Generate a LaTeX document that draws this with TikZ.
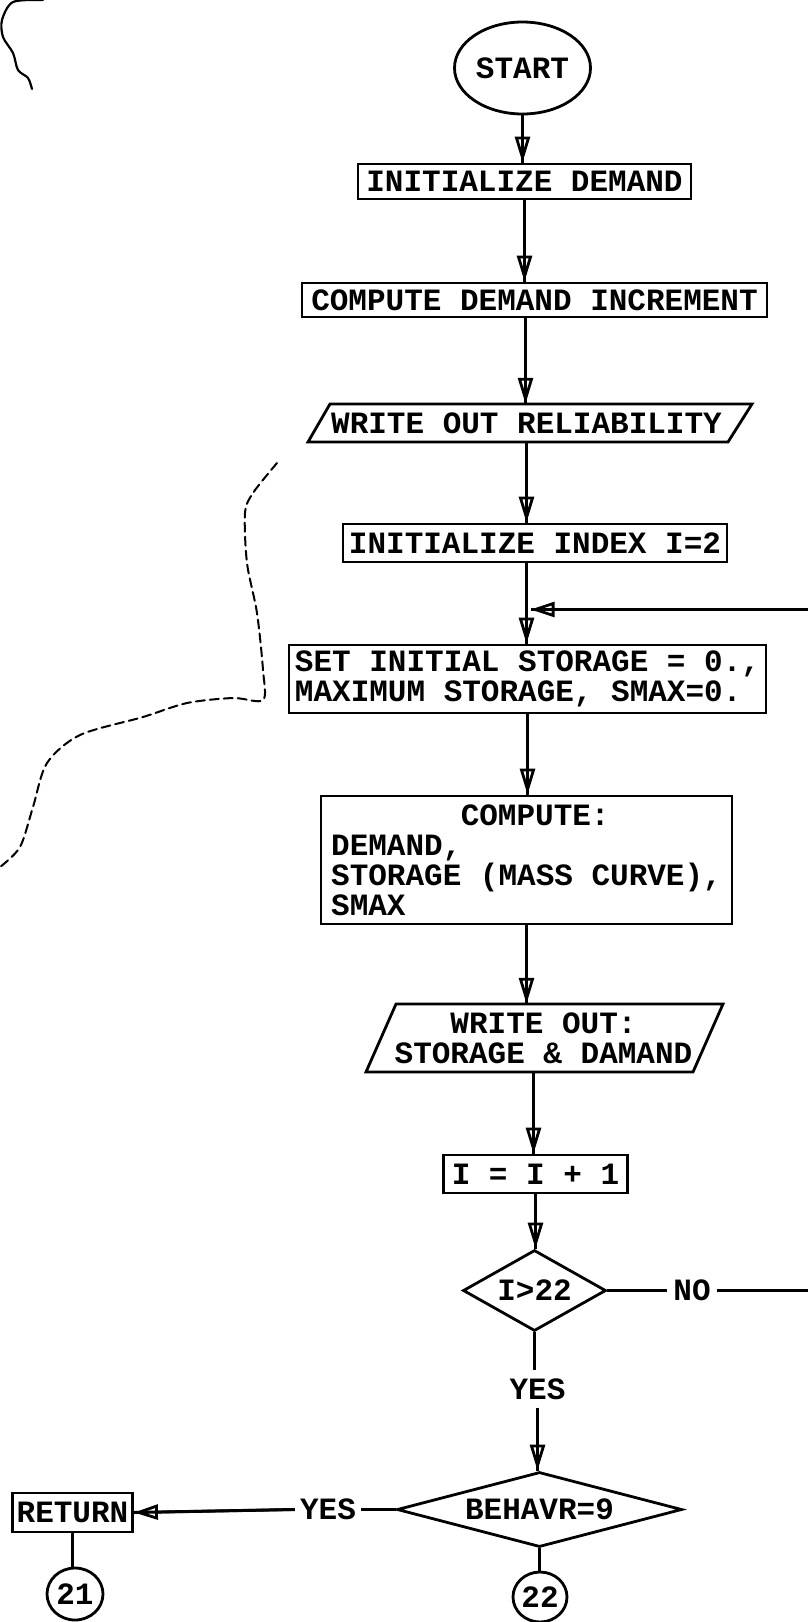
\documentclass[tikz,border=0pt]{standalone}
\usepackage{fontspec}
\setmonofont{Liberation Mono}[WordSpace={1,0,0}]
\usetikzlibrary{arrows.meta,shapes.geometric}
\newcommand\tfont{\fontsize{31}{30}\selectfont\ttfamily\bfseries}
\tikzset{
  lw/.style={line width=2.8pt},
  cw/.style={line width=3pt},
  boxnode/.style={draw, lw, rectangle, inner sep=0pt, font=\tfont},
  txtnode/.style={inner sep=0pt, font=\tfont},
  lbl/.style={inner xsep=6pt, inner ysep=8pt, font=\tfont},
  dia/.style={diamond, draw, lw, inner sep=0pt, font=\tfont},
  oval/.style={ellipse, draw, lw, inner sep=0pt, font=\tfont},
  conn/.style={cw},
  arr/.style={cw, postaction={draw, lw, -{Triangle[open,length=26pt,width=15pt]}}},
  harr/.style={cw, postaction={draw, lw, -{Triangle[open,length=24pt,width=15pt]}}},
  scribble/.style={line width=2.2pt, line cap=round, line join=round},
}
\begin{document}
\begin{tikzpicture}[x=1pt,y=-1pt]
\useasboundingbox (0,0) rectangle (808,1622);
% scan marks
\draw[scribble] plot[smooth] coordinates {(43,0) (13,2) (2,20) (3,37) (13,53) (18,70) (28,78) (32,89)};
\draw[scribble, line width=2pt, dash pattern=on 9pt off 5pt] plot[smooth, tension=0.5] coordinates {(277,463) (253,493) (245,513) (247,563) (257,613) (263,670) (263,700) (233,698) (187,703) (143,717) (80,735) (47,763) (33,807) (20,847) (0,867)};

% nodes
\node[oval, minimum width=136pt, minimum height=92pt] (start) at (522.5,68) {START};
\node[boxnode, minimum width=333pt, minimum height=35pt] (initd) at (524.5,181.5) {INITIALIZE DEMAND};
\node[boxnode, minimum width=465pt, minimum height=34pt] (compinc) at (534.5,300) {COMPUTE DEMAND INCREMENT};
\draw[lw] (330,404) -- (752,404) -- (728,442) -- (308,442) -- cycle;
\node[txtnode, minimum width=380pt, minimum height=38pt] (wrrel) at (526.5,423) {WRITE OUT RELIABILITY};
\node[boxnode, minimum width=384pt, minimum height=38pt] (initidx) at (535,543) {INITIALIZE INDEX I=2};
\coordinate (join) at (526.5,609.5);
\coordinate (rt) at (840,0);
\node[boxnode, minimum width=477pt, minimum height=68pt, align=left] (set) at (527.5,679) {SET INITIAL STORAGE = 0.,\\MAXIMUM STORAGE, SMAX=0.};
\node[boxnode, minimum width=411pt, minimum height=128pt, align=left] (comp) at (526.5,860) {\makebox[390pt]{\hspace{18pt}COMPUTE:}\\DEMAND,\\STORAGE (MASS CURVE),\\SMAX};
\draw[lw] (396,1004) -- (723,1004) -- (693,1072) -- (366,1072) -- cycle;
\node[txtnode, minimum height=68pt, align=center] (wrsd) at (543.5,1038) {WRITE OUT:\\STORAGE \& DAMAND};
\node[boxnode, minimum width=184pt, minimum height=38pt] (incr) at (535.5,1174) {I = I + 1};
\node[dia, aspect=1.77, minimum width=143pt, minimum height=81pt] (d1) at (534.5,1290.5) {I>22};
\node[lbl] (no) at (692,1290.5) {NO};
\node[lbl] (yes1) at (537.5,1389) {YES};
\node[dia, aspect=3.8, minimum width=285pt, minimum height=75pt] (d2) at (539.5,1509.5) {BEHAVR=9};
\node[lbl, inner xsep=5pt] (yes2) at (328,1509.5) {YES};
\node[boxnode, minimum width=120pt, minimum height=39pt] (ret) at (72.5,1512.5) {RETURN};
\node[oval, minimum width=56pt, minimum height=52pt] (c21) at (75,1594) {21};
\node[oval, minimum width=54pt, minimum height=50pt] (c22) at (540,1597) {22};

% connectors
\draw[arr] (start.south) -- (start.south |- initd.north);
\draw[arr] (initd.south) -- (initd.south |- compinc.north);
\draw[arr] ([xshift=-9pt]compinc.south) -- ([xshift=-9pt]compinc.south |- wrrel.north);
\draw[arr] (wrrel.south) -- (wrrel.south |- initidx.north);
\draw[conn] (initidx.south -| join) -- (join);
\draw[arr] (join) -- (join |- set.north);
\draw[arr] (set.south) -- (set.south |- comp.north);
\draw[arr] (comp.south) -- (comp.south |- wrsd.north);
\draw[arr] ([xshift=-10pt]wrsd.south) -- ([xshift=-10pt]wrsd.south |- incr.north);
\draw[arr] (incr.south) -- (incr.south |- d1.north);
\draw[conn] (d1.south) -- (d1.south |- yes1.north);
\draw[arr] (yes1.south) -- (yes1.south |- d2.north);
\draw[conn] (d1.east) -- (no.west);
\draw[harr] (no.east) -- (no.east -| rt) |- ([xshift=4pt]join);
\draw[conn] (d2.west) -- (yes2.east);
\draw[harr] (yes2.west) -- (ret.east);
\draw[conn] (d2.south) -- (d2.south |- c22.north);
\draw[conn] (ret.south) -- (ret.south |- c21.north);
\end{tikzpicture}
\end{document}
